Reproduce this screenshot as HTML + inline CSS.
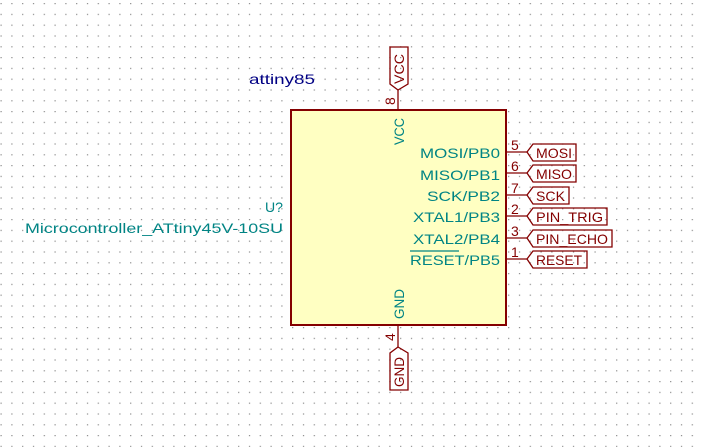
<!DOCTYPE html>
<html><head><meta charset="utf-8"><style>
html,body{margin:0;padding:0;background:#fff;}
svg{display:block;}
text{font-family:"Liberation Sans",sans-serif;}
</style></head><body>
<svg width="702" height="447" viewBox="0 0 702 447" xmlns="http://www.w3.org/2000/svg">
<defs>
<pattern id="g" x="0.5" y="3" width="10.8" height="10.8" patternUnits="userSpaceOnUse">
<rect x="0" y="0" width="1.2" height="1.2" fill="#8a8a8a"/>
</pattern>
</defs>
<rect width="702" height="447" fill="#fff"/>
<rect width="702" height="447" fill="url(#g)"/>

<rect x="291" y="110" width="215" height="215" fill="#ffffc2" stroke="#840000" stroke-width="2"/>

<g stroke="#840000" stroke-width="1.3" fill="none">
<line x1="398" y1="90" x2="398" y2="110"/>
<line x1="398" y1="325" x2="398" y2="347"/>
<line x1="506" y1="152" x2="527" y2="152"/>
<line x1="506" y1="173" x2="527" y2="173"/>
<line x1="506" y1="195" x2="527" y2="195"/>
<line x1="506" y1="216" x2="527" y2="216"/>
<line x1="506" y1="238" x2="527" y2="238"/>
<line x1="506" y1="259" x2="527" y2="259"/>
<polygon points="390,47 408,47 408,84 398,90 390,84"/>
<polygon points="398,347 408,353 408,390 390,390 390,353"/>
<polygon points="527,152 533,144 576,144 576,161 533,161"/>
<polygon points="527,173 533,165 576,165 576,182 533,182"/>
<polygon points="527,195 533,187 569,187 569,204 533,204"/>
<polygon points="527,216 533,208 607,208 607,225 533,225"/>
<polygon points="527,238 533,230 612,230 612,247 533,247"/>
<polygon points="527,259 533,251 587,251 587,268 533,268"/>
</g>

<g fill="#840000" font-size="14">
<text x="536" y="158" textLength="36" lengthAdjust="spacingAndGlyphs">MOSI</text>
<text x="536" y="179" textLength="36" lengthAdjust="spacingAndGlyphs">MISO</text>
<text x="536" y="201" textLength="29" lengthAdjust="spacingAndGlyphs">SCK</text>
<text x="536" y="222" textLength="67" lengthAdjust="spacingAndGlyphs">PIN_TRIG</text>
<text x="536" y="244" textLength="72" lengthAdjust="spacingAndGlyphs">PIN_ECHO</text>
<text x="536" y="265" textLength="46" lengthAdjust="spacingAndGlyphs">RESET</text>
<text transform="translate(404,84) rotate(-90)" textLength="30" lengthAdjust="spacingAndGlyphs">VCC</text>
<text transform="translate(404,387) rotate(-90)" textLength="30" lengthAdjust="spacingAndGlyphs">GND</text>
</g>

<g fill="#840000" font-size="14">
<text x="511" y="150">5</text>
<text x="511" y="171">6</text>
<text x="511" y="193">7</text>
<text x="511" y="214">2</text>
<text x="511" y="236">3</text>
<text x="511" y="257">1</text>
<text transform="translate(395,105) rotate(-90)">8</text>
<text transform="translate(395,341) rotate(-90)">4</text>
</g>

<g fill="#008484" font-size="14" text-anchor="end">
<text x="500" y="158" textLength="80" lengthAdjust="spacingAndGlyphs">MOSI/PB0</text>
<text x="500" y="180" textLength="80" lengthAdjust="spacingAndGlyphs">MISO/PB1</text>
<text x="500" y="201" textLength="73" lengthAdjust="spacingAndGlyphs">SCK/PB2</text>
<text x="500" y="222" textLength="87" lengthAdjust="spacingAndGlyphs">XTAL1/PB3</text>
<text x="500" y="244" textLength="87" lengthAdjust="spacingAndGlyphs">XTAL2/PB4</text>
<text x="500" y="265" textLength="90" lengthAdjust="spacingAndGlyphs">RESET/PB5</text>
</g>
<line x1="410" y1="251" x2="459" y2="251" stroke="#008484" stroke-width="1.2"/>
<g fill="#008484" font-size="14">
<text transform="translate(404,145) rotate(-90)" textLength="27" lengthAdjust="spacingAndGlyphs">VCC</text>
<text transform="translate(404,319) rotate(-90)" textLength="30" lengthAdjust="spacingAndGlyphs">GND</text>
<text x="283" y="212" text-anchor="end" textLength="18" lengthAdjust="spacingAndGlyphs">U?</text>
<text x="283" y="233" text-anchor="end" textLength="258" lengthAdjust="spacingAndGlyphs">Microcontroller_ATtiny45V-10SU</text>
</g>
<text x="249" y="84" fill="#000084" font-size="14" textLength="66" lengthAdjust="spacingAndGlyphs">attiny85</text>
</svg>
</body></html>
